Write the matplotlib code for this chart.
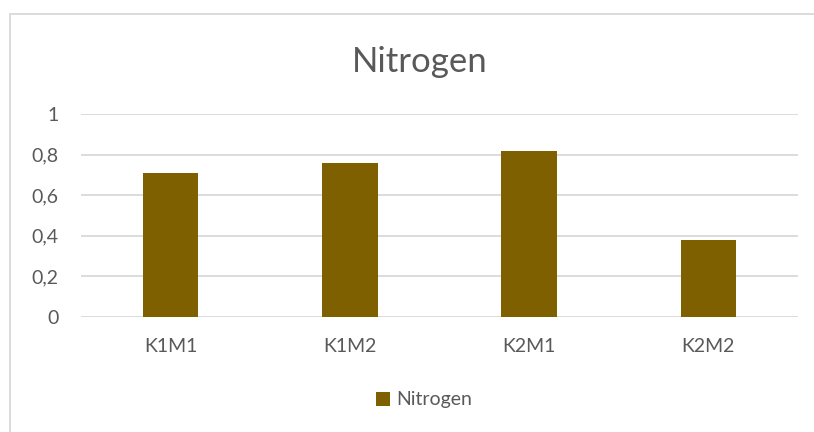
import matplotlib.pyplot as plt
from matplotlib.patches import Rectangle
from matplotlib.ticker import FuncFormatter

categories = ["K1M1", "K1M2", "K2M1", "K2M2"]
nitrogen = [0.71, 0.76, 0.82, 0.38]
y_ticks = [0, 0.2, 0.4, 0.6, 0.8, 1]

BAR = "#7F6000"
TEXT = "#595959"
GRID = "#D9D9D9"

plt.rcParams['font.family'] = ['Lato', 'DejaVu Sans']

fig = plt.figure(figsize=(8.14, 4.32), dpi=100)
ax = fig.add_axes([81 / 814, 1 - 317 / 432, (798 - 81) / 814, (317 - 114) / 432])

ax.bar(range(len(categories)), nitrogen, width=0.31, color=BAR, label="Nitrogen", zorder=3)

ax.set_xlim(-0.5, len(categories) - 0.5)
ax.set_ylim(0, 1)
ax.set_yticks(y_ticks)
ax.yaxis.set_major_formatter(FuncFormatter(lambda v, _: f"{v:g}".replace('.', ',')))
ax.set_xticks(range(len(categories)))
ax.set_xticklabels(categories)
ax.tick_params(axis='both', length=0, labelsize=14, labelcolor=TEXT)
ax.tick_params(axis='y', pad=16)
ax.tick_params(axis='x', pad=15)
ax.yaxis.grid(True, color=GRID, linewidth=1.3, zorder=0)
ax.set_axisbelow(True)
for s in ax.spines.values():
    s.set_visible(False)

fig.text(420 / 814, 1 - 62 / 432, "Nitrogen", ha='center', va='center',
         fontsize=25, color=TEXT)

fig.legend(loc='center', bbox_to_anchor=(424 / 814, 1 - 400 / 432), frameon=False,
           fontsize=14, labelcolor=TEXT, handlelength=0.7, handleheight=0.7,
           handletextpad=0.3)

# chart area outline
fig.patches.append(Rectangle((10 / 814, -0.1), 1.1, 1.1 - 14 / 432,
                             transform=fig.transFigure, fill=False,
                             edgecolor=GRID, linewidth=1.3))

fig.savefig("out.png", dpi=100)
